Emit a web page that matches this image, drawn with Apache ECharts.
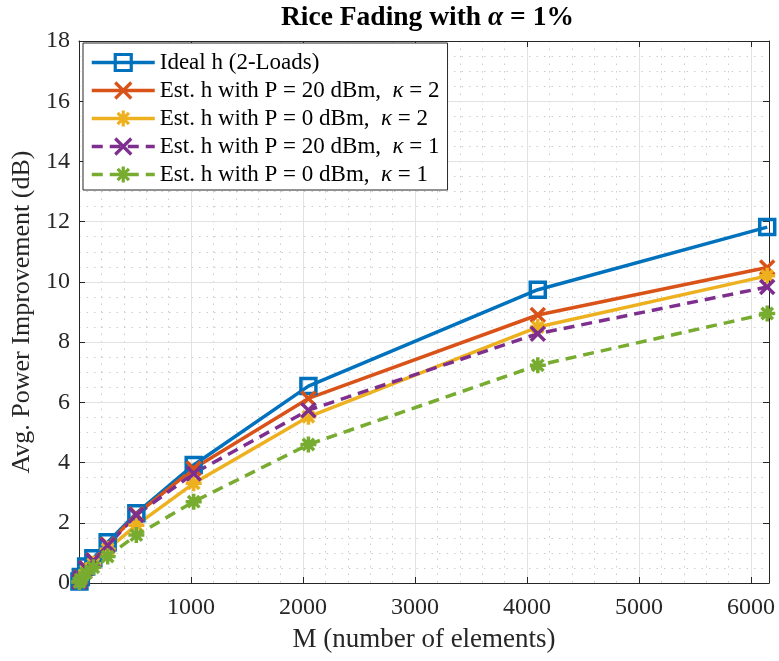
<!DOCTYPE html>
<html>
<head>
<meta charset="utf-8">
<script src="https://cdn.jsdelivr.net/npm/echarts@6/dist/echarts.min.js"></script>
<style>html,body{margin:0;padding:0;background:#fff}#c{width:779px;height:661px}</style>
</head>
<body>
<div id="c"></div>
<script>
const M = [4, 16, 64, 128, 256, 512, 1024, 2048, 4096, 6144];
const idealH = [0.05, 0.2, 0.55, 0.82, 1.35, 2.32, 3.92, 6.54, 9.74, 11.82];
const estP20K2 = [0.05, 0.18, 0.5, 0.76, 1.28, 2.28, 3.80, 6.13, 8.9, 10.48];
const estP0K2 = [0.04, 0.15, 0.4, 0.64, 1.12, 1.92, 3.31, 5.52, 8.5, 10.2];
const estP20K1 = [0.05, 0.17, 0.48, 0.74, 1.25, 2.26, 3.64, 5.74, 8.28, 9.83];
const estP0K1 = [0.03, 0.12, 0.33, 0.52, 0.88, 1.59, 2.70, 4.6, 7.23, 8.95];
const seriesNames = ['Ideal h (2-Loads)', 'Est. h with P = 20 dBm,  κ = 2', 'Est. h with P = 0 dBm,  κ = 2', 'Est. h with P = 20 dBm,  κ = 1', 'Est. h with P = 0 dBm,  κ = 1'];
const xMajorTicks = [1000, 2000, 3000, 4000, 5000, 6000];

const FONT = 'Liberation Serif';
const TXT = '#262626';
const X_ICON = 'path://M0,0L10,10M10,0L0,10';
const STAR_ICON = 'path://M5,0L5,10M0,5L10,5M1.46,1.46L8.54,8.54M8.54,1.46L1.46,8.54';
const SQ_ICON = 'path://M0,0L10,0L10,10L0,10Z';

function pairs(ys) { return M.map((m, i) => [m, ys[i]]); }
function mk(name, ys, color, symbol, size, dashed) {
  return {
    name: name, type: 'line', data: pairs(ys),
    xAxisIndex: 0, yAxisIndex: 0,
    symbol: symbol, symbolSize: size, showAllSymbol: true,
    clip: false,
    lineStyle: { color: color, width: 3.5, type: dashed ? [11, 7] : 'solid' },
    itemStyle: { color: 'rgba(0,0,0,0)', borderColor: color, borderWidth: 3.5 },
    emphasis: { disabled: true },
    z: 3
  };
}

const chart = echarts.init(document.getElementById('c'));
chart.setOption({
  animation: false,
  backgroundColor: '#fff',
  title: {
    text: 'Rice Fading with {a|α} = 1%',
    left: 281, top: 4, padding: 0,
    textStyle: {
      fontFamily: FONT, fontWeight: 'bold', fontSize: 27.5, color: '#000',
      rich: { a: { fontFamily: FONT, fontStyle: 'italic', fontWeight: 'bold', fontSize: 27.5, color: '#000' } }
    }
  },
  grid: { left: 79, right: 10, top: 41, bottom: 78, show: false },
  legend: {
    orient: 'vertical', left: 83, top: 43,
    padding: [8, 8, 4, 7],
    itemWidth: 63, itemHeight: 20, itemGap: 5,
    backgroundColor: '#fff', borderColor: TXT, borderWidth: 1,
    lineStyle: { width: 3.5 },
    itemStyle: { borderWidth: 3.2 },
    formatter: n => n.replace('κ', '{k|κ}'),
    textStyle: {
      fontFamily: FONT, fontSize: 23, color: '#000', lineHeight: 21,
      rich: { k: { fontFamily: FONT, fontStyle: 'italic', fontSize: 23, color: '#000', lineHeight: 21 } }
    },
    data: seriesNames
  },
  xAxis: [
    {
      type: 'value', position: 'bottom', min: 0, max: 6160, interval: 1000, z: 2,
      name: 'M (number of elements)', nameLocation: 'middle', nameGap: 43,
      nameTextStyle: { fontFamily: FONT, fontSize: 27, color: TXT },
      axisLine: { show: true, onZero: false, lineStyle: { color: TXT, width: 1 } },
      axisTick: { show: true, inside: true, length: 6, lineStyle: { color: TXT } },
      axisLabel: { fontFamily: FONT, fontSize: 24, color: TXT, margin: 13,
        formatter: v => xMajorTicks.indexOf(v) >= 0 ? String(v) : '' },
      splitLine: { show: true, lineStyle: { color: '#e2e2e2', width: 1 } }
    },
    {
      type: 'value', position: 'top', min: 0, max: 6160, interval: 1000, z: 2,
      axisLine: { show: true, onZero: false, lineStyle: { color: TXT, width: 1 } },
      axisTick: { show: true, inside: true, length: 6, lineStyle: { color: TXT } },
      axisLabel: { show: false }, splitLine: { show: false }
    },
    {
      type: 'value', position: 'bottom', min: 0, max: 6160, interval: 200, z: 1,
      axisLine: { show: false }, axisTick: { show: false }, axisLabel: { show: false },
      splitLine: { show: true, lineStyle: { color: '#cccccc', width: 1, type: [1.5, 6] } }
    }
  ],
  yAxis: [
    {
      type: 'value', position: 'left', min: 0, max: 18, interval: 2, z: 2,
      name: 'Avg. Power Improvement (dB)', nameLocation: 'middle', nameGap: 39,
      nameTextStyle: { fontFamily: FONT, fontSize: 26, color: TXT },
      axisLine: { show: true, onZero: false, lineStyle: { color: TXT, width: 1 } },
      axisTick: { show: true, inside: true, length: 6, lineStyle: { color: TXT } },
      axisLabel: { fontFamily: FONT, fontSize: 24, color: TXT, margin: 9 },
      splitLine: { show: true, lineStyle: { color: '#e2e2e2', width: 1 } }
    },
    {
      type: 'value', position: 'right', min: 0, max: 18, interval: 2, z: 2,
      axisLine: { show: true, onZero: false, lineStyle: { color: TXT, width: 1 } },
      axisTick: { show: true, inside: true, length: 6, lineStyle: { color: TXT } },
      axisLabel: { show: false }, splitLine: { show: false }
    },
    {
      type: 'value', position: 'left', min: 0, max: 18, interval: 0.5, z: 1,
      axisLine: { show: false }, axisTick: { show: false }, axisLabel: { show: false },
      splitLine: { show: true, lineStyle: { color: '#cccccc', width: 1, type: [1.5, 6] } }
    }
  ],
  series: [
    mk(seriesNames[0], idealH, '#0072BD', SQ_ICON, 15, false),
    mk(seriesNames[1], estP20K2, '#D95319', X_ICON, 14, false),
    mk(seriesNames[2], estP0K2, '#EDB120', STAR_ICON, 16, false),
    mk(seriesNames[3], estP20K1, '#7E2F8E', X_ICON, 14, true),
    mk(seriesNames[4], estP0K1, '#77AC30', STAR_ICON, 16, true)
  ]
});
</script>
</body>
</html>
